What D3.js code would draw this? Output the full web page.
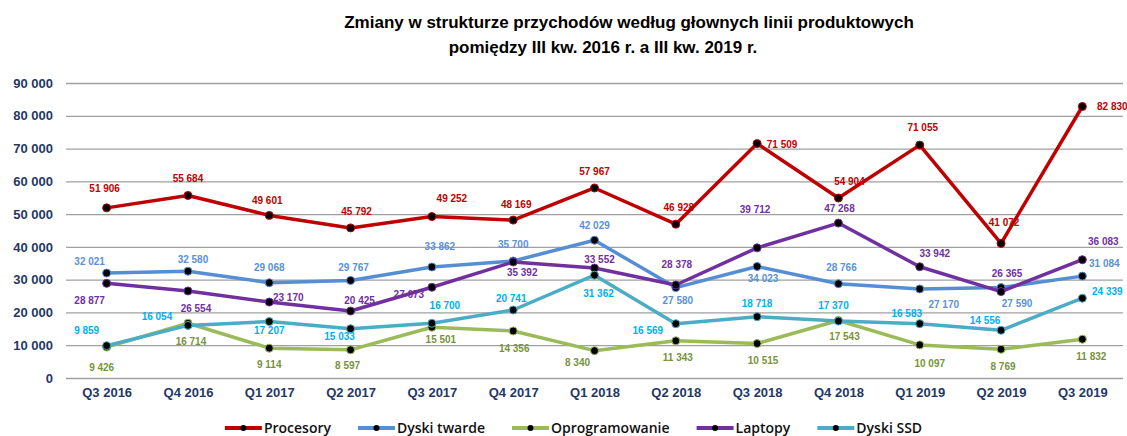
<!DOCTYPE html>
<html lang="pl">
<head>
<meta charset="utf-8">
<title>Zmiany w strukturze przychodów</title>
<script src="https://cdn.jsdelivr.net/npm/d3@7"></script>
<style>
  body { margin: 0; background: #fff; }
  .axis text { font-family: "Liberation Sans", Arial, sans-serif; font-weight: bold; font-size: 13px; fill: #1F3864; }
  .grid line { stroke: #a0a0a0; stroke-width: 1.3; }
  .lbl { font-family: "Liberation Sans", Arial, sans-serif; font-weight: bold; font-size: 10px; }
</style>
</head>
<body>
<script>
// data
const quarters = ["Q3 2016","Q4 2016","Q1 2017","Q2 2017","Q3 2017","Q4 2017","Q1 2018","Q2 2018","Q3 2018","Q4 2018","Q1 2019","Q2 2019","Q3 2019"];
const seriesNames = ["Procesory","Dyski twarde","Oprogramowanie","Laptopy","Dyski SSD"];
const procesory      = [51906, 55684, 49601, 45792, 49252, 48169, 57967, 46928, 71509, 54904, 71055, 41072, 82830];
const dyskiTwarde    = [32021, 32580, 29068, 29767, 33862, 35700, 42029, 27580, 34023, 28766, 27170, 27590, 31084];
const oprogramowanie = [9426, 16714, 9114, 8597, 15501, 14356, 8340, 11343, 10515, 17543, 10097, 8769, 11832];
const laptopy        = [28877, 26554, 23170, 20425, 27673, 35392, 33552, 28378, 39712, 47268, 33942, 26365, 36083];
const dyskiSSD       = [9859, 16054, 17207, 15033, 16700, 20741, 31362, 16569, 18718, 17370, 16583, 14556, 24339];
const yTicks = [0, 10000, 20000, 30000, 40000, 50000, 60000, 70000, 80000, 90000];

const allValues = [procesory, dyskiTwarde, oprogramowanie, laptopy, dyskiSSD];
const lineColors  = ["#C00000", "#558ED5", "#9BBB59", "#7030A0", "#4BACC6"];
const labelColors = ["#C00000", "#5B91D6", "#77933C", "#7030A0", "#00B0F0"];

// label offsets (dx, dy) from each point, as placed in the original
const labelOffsets = [
  [[-2,-19],[0,-17],[-2,-15],[6,-16],[20,-18],[3,-16],[0,-16],[3,-17],[25,1],[11,-17],[3,-18],[3,-21],[30,0]],
  [[-17,-12],[5,-12],[0,-15],[3,-13],[8,-21],[0,-16],[0,-15],[2,13],[6,12],[3,-16],[24,16],[16,16],[22,-13]],
  [[-5,20],[3,18],[0,16],[-3,16],[9,12],[1,18],[-17,12],[2,17],[6,17],[6,16],[10,19],[2,17],[9,17]],
  [[-17,17],[8,18],[19,-5],[9,-11],[-23,7],[9,11],[5,-9],[1,-20],[-2,-38],[1,-15],[15,-13],[6,-18],[21,-18]],
  [[-20,-15],[-31,-9],[0,9],[-11,8],[13,-18],[-2,-12],[4,18],[-28,7],[0,-13],[-5,-16],[-13,-10],[-16,-10],[25,-7]]
];

const W = 1127, H = 436;
const plotL = 66, plotR = 1123, plotT = 83, plotB = 378;

const fmt = d3.formatLocale({ decimal: ",", thousands: " ", grouping: [3], currency: ["", ""] }).format(",d");

const svg = d3.select("body").append("svg")
  .attr("width", W).attr("height", H);

// title
const title = svg.append("text")
  .attr("font-family", "'Liberation Sans Narrow', 'Arial Narrow', 'Liberation Sans', sans-serif")
  .attr("font-weight", "bold").attr("font-size", 17).attr("fill", "#000");
title.append("tspan").attr("x", 629).attr("y", 28).attr("text-anchor", "middle")
  .text("Zmiany w strukturze przychodów według głownych linii produktowych");
title.append("tspan").attr("x", 603).attr("y", 53).attr("text-anchor", "middle")
  .text("pomiędzy III kw. 2016 r. a III kw. 2019 r.");

// scales
const x = d3.scalePoint().domain(quarters).range([plotL, plotR]).padding(0.5);
const y = d3.scaleLinear().domain([0, 90000]).range([plotB, plotT]);

// y axis + grid
const yAxis = svg.append("g")
  .attr("class", "axis grid")
  .attr("transform", `translate(${plotL},0)`)
  .call(d3.axisLeft(y).tickValues(yTicks).tickFormat(fmt).tickSize(-(plotR - plotL)).tickPadding(13));
yAxis.select(".domain").remove();

// x axis
const xAxis = svg.append("g")
  .attr("class", "axis")
  .attr("transform", `translate(0,${plotB})`)
  .call(d3.axisBottom(x).tickSize(0).tickPadding(10));
xAxis.select(".domain").remove();

// lines
const line = d3.line().x((d, i) => x(quarters[i])).y(d => y(d));

allValues.forEach((vals, s) => {
  svg.append("path")
    .datum(vals)
    .attr("fill", "none")
    .attr("stroke", lineColors[s])
    .attr("stroke-width", 3.5)
    .attr("stroke-linejoin", "round")
    .attr("d", line);
  svg.append("g").selectAll("circle")
    .data(vals)
    .join("circle")
    .attr("cx", (d, i) => x(quarters[i]))
    .attr("cy", d => y(d))
    .attr("r", 4)
    .attr("fill", "#000")
    .attr("stroke", lineColors[s])
    .attr("stroke-width", 1);
});

// data labels
allValues.forEach((vals, s) => {
  svg.append("g").selectAll("text")
    .data(vals)
    .join("text")
    .attr("class", "lbl")
    .attr("x", (d, i) => x(quarters[i]) + labelOffsets[s][i][0])
    .attr("y", (d, i) => y(d) + labelOffsets[s][i][1])
    .attr("dy", "0.35em")
    .attr("text-anchor", "middle")
    .attr("fill", labelColors[s])
    .text(d => fmt(d));
});

// legend
const legend = svg.append("g").attr("transform", "translate(0,428)");
const items = legend.selectAll("g").data(seriesNames).join("g");
items.append("text")
  .attr("x", 39)
  .attr("dy", "0.35em")
  .attr("font-family", "'Open Sans', Lato, sans-serif")
  .attr("font-weight", 600)
  .attr("font-size", 14)
  .attr("fill", "#111")
  .text(d => d);
items.append("line")
  .attr("x1", 0).attr("x2", 37)
  .attr("stroke", (d, i) => lineColors[i]).attr("stroke-width", 4);
items.append("circle")
  .attr("cx", 18.5).attr("r", 3)
  .attr("fill", "#000");

let widths = [];
items.each(function () { widths.push(39 + this.querySelector("text").getComputedTextLength()); });
const gap = 27;
const total = d3.sum(widths) + gap * (widths.length - 1);
let pos = 573.5 - total / 2;
items.attr("transform", (d, i) => {
  const t = `translate(${pos},0)`;
  pos += widths[i] + gap;
  return t;
});
</script>
</body>
</html>
